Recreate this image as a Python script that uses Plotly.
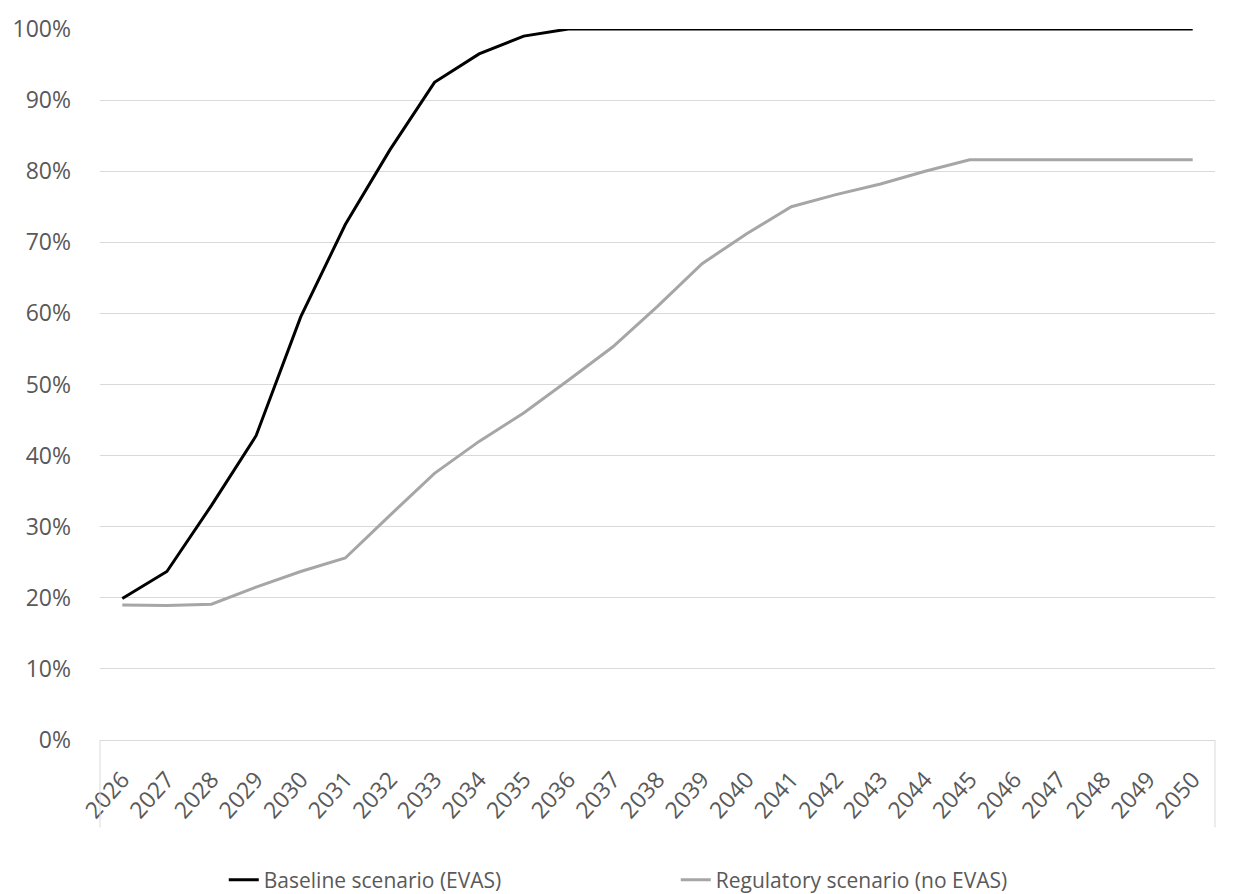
import plotly.graph_objects as go

# EV adoption share by scenario
years = [str(y) for y in range(2026, 2051)]
baseline = [0.199, 0.237, 0.330, 0.428, 0.595, 0.725, 0.830, 0.925, 0.965, 0.990,
            1.0, 1.0, 1.0, 1.0, 1.0, 1.0, 1.0, 1.0, 1.0, 1.0, 1.0, 1.0, 1.0, 1.0, 1.0]
regulatory = [0.190, 0.189, 0.191, 0.215, 0.237, 0.256, 0.316, 0.375, 0.420, 0.460,
              0.506, 0.553, 0.610, 0.670, 0.712, 0.750, 0.767, 0.782, 0.800, 0.816,
              0.816, 0.816, 0.816, 0.816, 0.816]
y_ticks = [i / 10 for i in range(11)]
y_labels = [f"{i * 10}%" for i in range(11)]

TEXT = "#595959"
GRID = "#d9d9d9"
FONT = "Open Sans, sans-serif"

fig = go.Figure()
fig.add_trace(go.Scatter(x=years, y=baseline, mode="lines",
    name="Baseline scenario (EVAS)",
    line=dict(color="#000000", width=3)))
fig.add_trace(go.Scatter(x=years, y=regulatory, mode="lines",
    name="Regulatory scenario (no EVAS)",
    line=dict(color="#a6a6a6", width=3)))

# Excel-style edge ticks of the category axis
for xp in (0, 1):
    fig.add_shape(type="line", xref="paper", yref="paper",
                  x0=xp, x1=xp, y0=0, y1=-0.123,
                  line=dict(color=GRID, width=1))

# page body adds an 8px offset, so margins are trimmed to line up
fig.update_layout(
    width=1226, height=894,
    margin=dict(l=92, r=19, t=21, b=162),
    paper_bgcolor="white", plot_bgcolor="white",
    font=dict(family=FONT, size=21, color=TEXT),
    showlegend=True,
    legend=dict(orientation="h", x=0.111, xanchor="left",
                yref="container", y=0.0246, yanchor="middle",
                entrywidth=407, entrywidthmode="pixels",
                font=dict(size=21, color=TEXT)),
)
fig.update_xaxes(type="category", range=[-0.5, 24.5],
                 tickangle=-48, showgrid=False, ticks="",
                 showline=True, linecolor=GRID, linewidth=1,
                 ticklabelstandoff=16, automargin=False,
                 tickfont=dict(size=23, color=TEXT))
fig.update_yaxes(range=[0, 1], tickvals=y_ticks, ticktext=y_labels,
                 gridcolor=GRID, gridwidth=1, zeroline=False,
                 showline=False, ticks="", ticklabelstandoff=28,
                 automargin=False,
                 tickfont=dict(size=23, color=TEXT))

fig.write_html("out.html")
